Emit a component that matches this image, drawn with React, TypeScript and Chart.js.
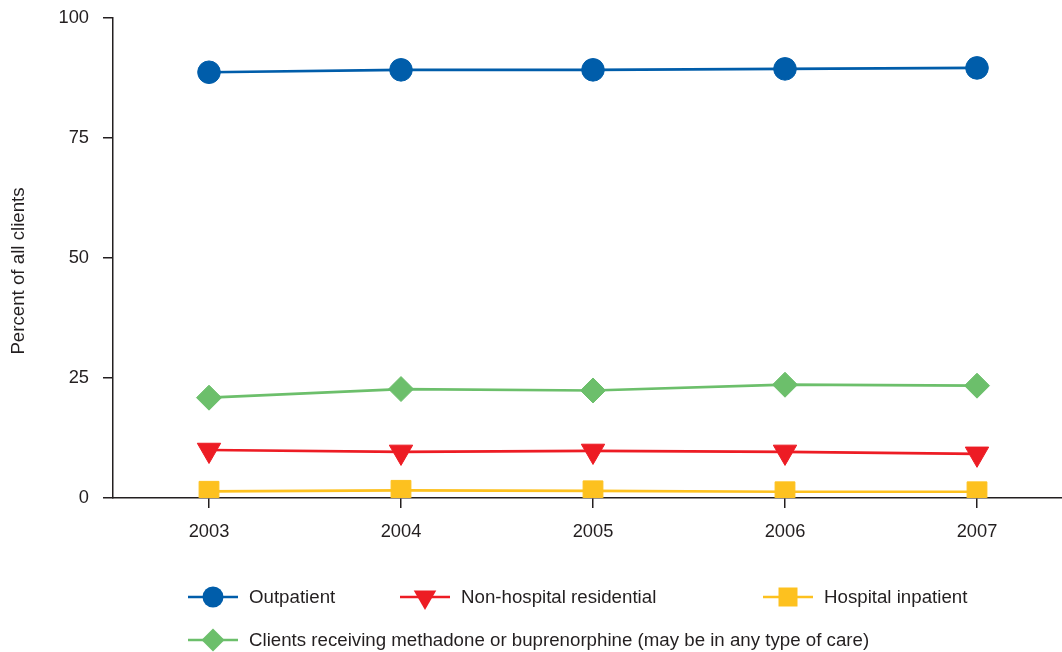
import { useEffect, useRef } from 'react';
import { Chart, registerables } from 'chart.js';

Chart.register(...registerables);

const years = [2003, 2004, 2005, 2006, 2007];
const outpatient = [88.7, 89.2, 89.2, 89.4, 89.6];
const residential = [10.0, 9.6, 9.8, 9.6, 9.2];
const inpatient = [1.4, 1.6, 1.5, 1.3, 1.3];
const methadone = [20.9, 22.7, 22.4, 23.6, 23.4];
const yTicks = [0, 25, 50, 75, 100];
const yTitle = 'Percent of all clients';

const names = [
  'Outpatient',
  'Non-hospital residential',
  'Hospital inpatient',
  'Clients receiving methadone or buprenorphine (may be in any type of care)',
];
const colors = ['#005DAA', '#ED1C24', '#FDC11F', '#6CBF6B'];
const axisColor = '#231F20';
const FONT = "'Liberation Sans', Arial, Helvetica, sans-serif";

function drawMarker(ctx: CanvasRenderingContext2D, style: string, x: number, y: number, r: number, color: string) {
  ctx.save();
  ctx.fillStyle = color;
  ctx.beginPath();
  if (style === 'circle') {
    ctx.arc(x, y, r, 0, Math.PI * 2);
  } else if (style === 'triangleDown') {
    const s = Math.sin(Math.PI / 3) * r;
    ctx.moveTo(x, y + r);
    ctx.lineTo(x - s, y - r / 2);
    ctx.lineTo(x + s, y - r / 2);
    ctx.closePath();
  } else if (style === 'rect') {
    ctx.rect(x - r, y - r, 2 * r, 2 * r);
  } else {
    ctx.moveTo(x, y - r);
    ctx.lineTo(x + r, y);
    ctx.lineTo(x, y + r);
    ctx.lineTo(x - r, y);
    ctx.closePath();
  }
  ctx.fill();
  ctx.restore();
}

const toPoints = (vals: number[]) => years.map((yr, i) => ({ x: yr, y: vals[i] }));

export default function App() {
  const ref = useRef<HTMLCanvasElement>(null);

  useEffect(() => {
    document.documentElement.style.overflow = 'hidden';
    document.body.style.overflow = 'hidden';
    document.body.style.margin = '0';

    const legendPlugin = {
      id: 'customLegend',
      afterDraw(chart: any) {
        const ctx: CanvasRenderingContext2D = chart.ctx;
        // y axis title
        ctx.save();
        ctx.fillStyle = axisColor;
        ctx.font = `18.7px ${FONT}`;
        ctx.textAlign = 'center';
        ctx.textBaseline = 'middle';
        ctx.translate(19, 271);
        ctx.rotate(-Math.PI / 2);
        ctx.fillText(yTitle, 0, 0);
        ctx.restore();

        const items = [
          { x: 188, y: 597, style: 'circle', r: 10.5, i: 0 },
          { x: 400, y: 597, style: 'triangleDown', r: 13, i: 1 },
          { x: 763, y: 597, style: 'rect', r: 9.5, i: 2 },
          { x: 188, y: 640, style: 'diamond', r: 11.5, i: 3 },
        ];
        for (const it of items) {
          ctx.save();
          ctx.strokeStyle = colors[it.i];
          ctx.lineWidth = 2.5;
          ctx.beginPath();
          ctx.moveTo(it.x, it.y);
          ctx.lineTo(it.x + 50, it.y);
          ctx.stroke();
          ctx.restore();
          drawMarker(ctx, it.style, it.x + 25, it.y, it.r, colors[it.i]);
          ctx.save();
          ctx.fillStyle = axisColor;
          ctx.font = `18.7px ${FONT}`;
          ctx.textBaseline = 'middle';
          ctx.textAlign = 'left';
          ctx.fillText(names[it.i], it.x + 61, it.y + 1);
          ctx.restore();
        }
      },
    };

    const common = { borderWidth: 2.7, pointBorderWidth: 1, fill: false, tension: 0 };

    const chart = new Chart(ref.current as HTMLCanvasElement, {
      type: 'line',
      data: {
        datasets: [
          {
            ...common,
            label: names[0],
            data: toPoints(outpatient),
            borderColor: colors[0],
            backgroundColor: colors[0],
            pointBackgroundColor: colors[0],
            pointStyle: 'circle',
            pointRadius: 11.3,
          },
          {
            ...common,
            label: names[1],
            data: toPoints(residential),
            borderColor: colors[1],
            backgroundColor: colors[1],
            pointBackgroundColor: colors[1],
            pointStyle: 'triangle',
            pointRotation: 180,
            pointRadius: 13.5,
          },
          {
            ...common,
            label: names[2],
            data: toPoints(inpatient),
            borderColor: colors[2],
            backgroundColor: colors[2],
            pointBackgroundColor: colors[2],
            pointStyle: 'rect',
            pointRadius: 14,
          },
          {
            ...common,
            label: names[3],
            data: toPoints(methadone),
            borderColor: colors[3],
            backgroundColor: colors[3],
            pointBackgroundColor: colors[3],
            pointStyle: 'rectRot',
            pointRadius: 12.5,
          },
        ] as any,
      },
      options: {
        animation: false,
        responsive: false,
        devicePixelRatio: 1,
        layout: { autoPadding: false, padding: { top: 18, right: 0, left: 0, bottom: 0 } },
        plugins: {
          legend: { display: false },
          tooltip: { enabled: false },
        },
        scales: {
          x: {
            type: 'linear',
            min: 2002.5,
            max: 2002.5 + 949 / 192,
            afterBuildTicks: (s: any) => {
              s.ticks = years.map((v) => ({ value: v }));
            },
            afterFit: (s: any) => {
              s.height = 154;
              s.paddingLeft = 0;
              s.paddingRight = 0;
              s.paddingTop = 0;
              s.paddingBottom = 0;
            },
            ticks: {
              color: axisColor,
              font: { size: 18.3, family: FONT },
              padding: 13,
              maxRotation: 0,
              autoSkip: false,
              callback: (v: any) => String(v),
            },
            grid: {
              drawOnChartArea: false,
              drawTicks: true,
              tickLength: 10,
              color: axisColor,
              lineWidth: 1.5,
            },
            border: { color: axisColor, width: 1.5 },
          },
          y: {
            min: 0,
            max: 100,
            afterBuildTicks: (s: any) => {
              s.ticks = yTicks.map((v) => ({ value: v }));
            },
            afterFit: (s: any) => {
              s.width = 113;
              s.paddingTop = 0;
              s.paddingBottom = 0;
              s.paddingLeft = 0;
              s.paddingRight = 0;
            },
            ticks: {
              color: axisColor,
              font: { size: 18.3, family: FONT },
              padding: 14,
              callback: (v: any) => String(v),
            },
            grid: {
              drawOnChartArea: false,
              drawTicks: true,
              tickLength: 10,
              color: axisColor,
              lineWidth: 1.5,
            },
            border: { color: axisColor, width: 1.5 },
          },
        },
      } as any,
      plugins: [legendPlugin],
    });
    return () => chart.destroy();
  }, []);

  return (
    <div style={{ position: 'absolute', left: 0, top: 0, width: 1062, height: 652, background: '#fff', overflow: 'hidden' }}>
      <canvas ref={ref} width={1062} height={652} style={{ display: 'block', width: 1062, height: 652 }} />
    </div>
  );
}
